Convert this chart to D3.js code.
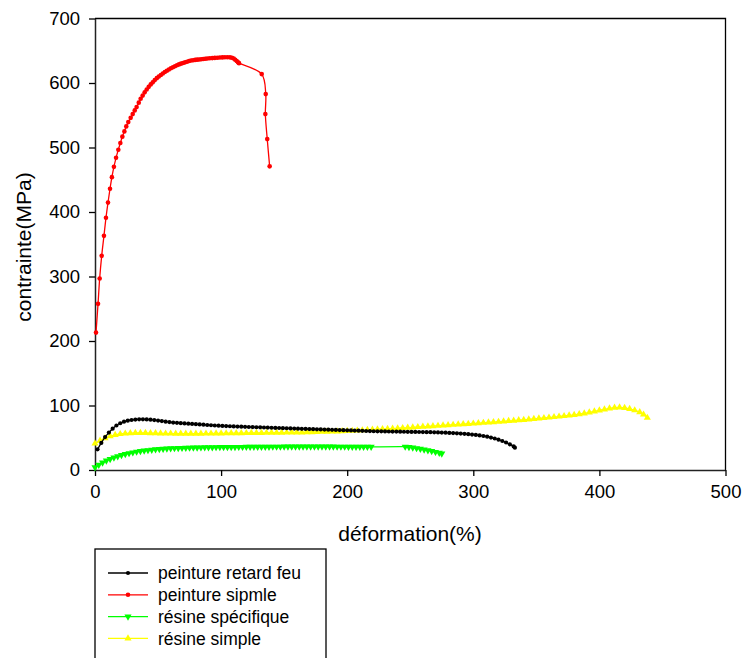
<!DOCTYPE html>
<html><head><meta charset="utf-8">
<script src="https://cdn.jsdelivr.net/npm/d3@7"></script>
<style>body{margin:0;background:#fff;} svg{display:block;font-family:"Liberation Sans",Arial,sans-serif;}</style>
</head><body>
<svg id="c" width="742" height="658"></svg>
<script>
const xTicks = [0,100,200,300,400,500];
const yTicks = [0,100,200,300,400,500,600,700];
const xTitle = "déformation(%)";
const yTitle = "contrainte(MPa)";
const seriesNames = ["peinture retard feu","peinture sipmle","résine spécifique","résine simple"];
const seriesColors = ["#000000","#ff0000","#00ff00","#ffff00"];
const seriesSymbols = ["circle","circle","down","up"];

const peintureRetardFeu = [[2,32],[5,42],[8,51],[11,58],[14,64],[17,69],[20,72.5],[23,75],[26,76.5],[29,77.5],[32,78.2],[35,78.5],[38,78.6],[41,78.4],[44,78],[47,77.4],[50,76.6],[53,75.8],[56,75],[59,74.3],[62,73.6],[65,73.1],[68,72.6],[71,72.2],[74,71.8],[77,71.4],[80,71],[83,70.6],[86,70.2],[89,69.8],[92,69.4],[95,69],[98,68.7],[101,68.4],[104,68.1],[107,67.8],[110,67.5],[113,67.3],[116,67.1],[119,66.9],[122,66.7],[125,66.5],[128,66.3],[131,66.1],[134,65.9],[137,65.7],[140,65.5],[143,65.3],[146,65.1],[149,64.9],[152,64.7],[155,64.5],[158,64.3],[161,64.1],[164,63.9],[167,63.7],[170,63.5],[173,63.3],[176,63.1],[179,62.9],[182,62.7],[185,62.5],[188,62.3],[191,62.1],[194,61.9],[197,61.7],[200,61.5],[203,61.3],[206,61.1],[209,60.9],[212,60.7],[215,60.5],[218,60.3],[221,60.1],[224,60],[227,59.9],[230,59.8],[233,59.7],[236,59.6],[239,59.5],[242,59.4],[245,59.3],[248,59.2],[251,59.1],[254,59],[257,58.9],[260,58.8],[263,58.7],[266,58.6],[269,58.4],[272,58.2],[275,58],[278,57.8],[281,57.5],[284,57.2],[287,56.9],[290,56.5],[293,56.1],[296,55.6],[299,55],[302,54.4],[305,53.6],[308,52.7],[311,51.6],[314,50.3],[317,48.8],[320,47],[323,45],[326,42.6],[329,39.8],[332,36.5],[333,34.6]];

const peintureSimple = [[0.8,213],[2.4,257.6],[3.7,297],[5.3,332],[7.1,363],[8.7,391],[10.3,414.6],[11.9,436],[13.4,454],[15,470],[16.7,484],[18.5,496.6],[20.1,507],[21.7,516.8],[23.3,525],[24.8,532.7],[26.4,539.4],[28.3,546],[29.9,551.8],[31.5,557.5],[33,562.6],[34.7,569.5],[36.2,575.6],[37.8,580.5],[39.4,585.5],[41,590],[42.6,594],[44.2,597.8],[45.8,601],[47.4,604.5],[49,607.5],[50.6,610],[52.2,612.5],[53.8,614.8],[55.4,617],[57,619],[58.6,621],[60.2,622.8],[61.8,624.5],[63.4,626],[65,627.5],[66.6,628.8],[68.2,630],[69.8,631],[71.4,632],[73,633],[74.6,634],[76.2,634.8],[77.8,635.3],[79.4,635.8],[81,636.2],[82.6,636.5],[84.2,636.8],[85.8,637.2],[87.4,637.6],[89,638],[91,638.3],[93,638.6],[95,638.9],[97,639.2],[99,639.5],[101,639.7],[103,640],[105,640],[107,639.8],[108.6,639.2],[110,638],[111.2,636],[112.4,634],[113.4,632],[114.2,630.8],[132.2,613.8],[135.4,582.8],[135.1,551.8],[136.6,513],[138.5,470.8]];

const resineSpecifique = [[0,4],[3,8],[6,11.5],[9,14.5],[12,17],[15,19.3],[18,21.3],[21,23],[24,24.6],[27,26],[30,27.2],[33,28.3],[36,29.2],[39,30],[42,30.7],[45,31.3],[48,31.9],[51,32.4],[54,32.8],[57,33.2],[60,33.5],[63,33.8],[66,34],[69,34.2],[72,34.4],[75,34.6],[78,34.7],[81,34.8],[84,34.9],[87,35],[90,35.1],[93,35.2],[96,35.3],[99,35.4],[102,35.5],[105,35.5],[108,35.6],[111,35.6],[114,35.7],[117,35.7],[120,35.8],[123,35.8],[126,35.9],[129,35.9],[132,36],[135,36],[138,36],[141,36.1],[144,36.1],[147,36.1],[150,36.2],[153,36.2],[156,36.2],[159,36.2],[162,36.2],[165,36.2],[168,36.2],[171,36.2],[174,36.2],[177,36.2],[180,36.2],[183,36.2],[186,36.2],[189,36.2],[192,36.1],[195,36.1],[198,36.1],[201,36],[204,36],[207,36],[210,35.9],[213,35.9],[216,35.8],[219,35.8],[246,36.1],[249,35.6],[252,34.8],[255,33.8],[258,32.8],[261,31.7],[264,30.5],[267,29.3],[270,28],[273,26.7],[275,25.5]];

const resineSimple = [[0,41],[4,45.5],[8,49.5],[12,52.5],[16,54.5],[20,55.8],[24,56.6],[28,57.1],[32,57.4],[36,57.5],[40,57.4],[44,57.2],[48,57],[52,56.8],[56,56.6],[60,56.5],[64,56.4],[68,56.3],[72,56.3],[76,56.3],[80,56.3],[84,56.4],[88,56.5],[92,56.6],[96,56.7],[100,56.8],[104,56.9],[108,57],[112,57.1],[116,57.2],[120,57.3],[124,57.4],[128,57.5],[132,57.6],[136,57.7],[140,57.8],[144,57.9],[148,58],[152,58.1],[156,58.2],[160,58.3],[164,58.4],[168,58.6],[172,58.8],[176,59],[180,59.2],[184,59.4],[188,59.6],[192,59.9],[196,60.2],[200,60.5],[204,60.8],[208,61.2],[212,61.6],[216,62.1],[220,62.6],[224,63],[228,63.4],[232,63.8],[236,64.2],[240,64.6],[244,65.1],[248,65.6],[252,66.1],[256,66.6],[260,67.1],[264,67.6],[268,68.1],[272,68.6],[276,69.1],[280,69.6],[284,70.1],[288,70.6],[292,71.1],[296,71.6],[300,72.1],[304,72.7],[308,73.2],[312,73.7],[316,74.2],[320,74.8],[324,75.4],[328,76],[332,76.6],[336,77.2],[340,77.8],[344,78.5],[348,79.2],[352,79.9],[356,80.6],[360,81.3],[364,82.1],[368,82.9],[372,83.7],[376,84.6],[380,85.5],[384,86.5],[388,87.7],[392,89.2],[396,90.8],[400,92.5],[404,94],[408,95.5],[412,96.6],[416,97],[420,96.3],[424,94.8],[428,92.6],[432,89.6],[435,86],[438,81]];

const seriesData = [peintureRetardFeu, peintureSimple, resineSpecifique, resineSimple];

const svg = d3.select("#c");
const L = 95, R = 725.5, T = 18.5, B = 470;
const x = d3.scaleLinear().domain([0,500]).range([L,R]);
const y = d3.scaleLinear().domain([0,700]).range([B,T]);

// frame top & right
svg.append("path").attr("d",`M${L},${T}H${R}V${B}`).attr("fill","none").attr("stroke","#000").attr("stroke-width",1.3);

const fs = 18.5;
const gx = svg.append("g").attr("transform",`translate(0,${B})`)
  .call(d3.axisBottom(x).tickValues(xTicks).tickSize(6).tickSizeOuter(0).tickPadding(9));
const gy = svg.append("g").attr("transform",`translate(${L},0)`)
  .call(d3.axisLeft(y).tickValues(yTicks).tickSize(6).tickSizeOuter(0).tickPadding(9));
[gx,gy].forEach(g=>{
  g.selectAll("path.domain").attr("stroke","#222").attr("stroke-width",1.5);
  g.selectAll(".tick line").attr("stroke","#000").attr("stroke-width",1.3);
  g.selectAll(".tick text").attr("fill","#000").style("font-size",fs+"px").style("font-family","'Liberation Sans',Arial,sans-serif");
});

svg.append("text").attr("x",410).attr("y",541).attr("text-anchor","middle")
  .style("font-size","21px").text(xTitle);
svg.append("text").attr("transform","translate(31,247) rotate(-90)").attr("text-anchor","middle")
  .style("font-size","21px").text(yTitle);

const line = d3.line().x(d=>x(d[0])).y(d=>y(d[1])).curve(d3.curveCatmullRom.alpha(0.5));
const tri = d3.symbol().type(d3.symbolTriangle).size(22);
function drawMarker(g, sym, color, px, py, r){
  if(sym==="circle"){
    g.append("circle").attr("cx",px).attr("cy",py).attr("r",r).attr("fill",color);
  } else {
    g.append("path").attr("d",tri()).attr("fill",color)
      .attr("transform",`translate(${px},${py}) rotate(${sym==="down"?180:0})`);
  }
}
const radii = [2.1, 2.3, 0, 0];

const order = [3,2,0,1];
order.forEach(i=>{
  const g = svg.append("g");
  g.append("path").datum(seriesData[i]).attr("d",line).attr("fill","none")
    .attr("stroke",seriesColors[i]).attr("stroke-width",1.3);
  seriesData[i].forEach(d=>drawMarker(g, seriesSymbols[i], seriesColors[i], x(d[0]), y(d[1]), radii[i]));
});

// legend
const lg = svg.append("g");
lg.append("rect").attr("x",95).attr("y",549).attr("width",231).attr("height",130)
  .attr("fill","#fff").attr("stroke","#000").attr("stroke-width",1.3);
seriesNames.forEach((n,i)=>{
  const cy = 573 + i*21.8;
  lg.append("line").attr("x1",108).attr("x2",148).attr("y1",cy).attr("y2",cy)
    .attr("stroke",seriesColors[i]).attr("stroke-width",1.3);
  drawMarker(lg, seriesSymbols[i], seriesColors[i], 128, cy, radii[i]);
  lg.append("text").attr("x",158).attr("y",cy).attr("dy","0.35em")
    .style("font-size","17.5px").text(n);
});
</script>
</body></html>
